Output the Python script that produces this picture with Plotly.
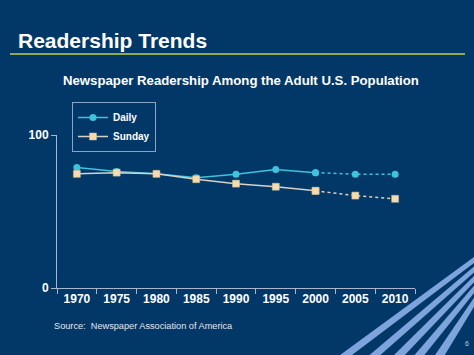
import plotly.graph_objects as go

years = [1970, 1975, 1980, 1985, 1990, 1995, 2000, 2005, 2010]
daily = [78.7, 76.1, 74.6, 72.0, 74.4, 77.4, 75.4, 74.4, 74.4]
sunday = [74.6, 75.4, 74.6, 71.1, 68.2, 66.2, 63.5, 60.4, 58.3]
split = 6  # index of 2000: solid up to here, dotted after

W, H = 474, 355
ML, MR, MT, MB = 57, 59, 135, 67
PW, PH = W - ML - MR, H - MT - MB

BG = "#023868"
DAILY_C = "#3fc3dc"
SUN_LINE = "#d6d2c8"
SUN_MK = "#f6dbac"


def px(x):
    return (x - ML) / PW


def py(y):
    return (H - MB - y) / PH


fig = go.Figure()
fig.add_trace(go.Scatter(
    x=years[:split + 1], y=daily[:split + 1], name="<b>Daily</b>", mode="lines+markers",
    line=dict(color=DAILY_C, width=1.5),
    marker=dict(symbol="circle", size=7, color=DAILY_C)))
fig.add_trace(go.Scatter(
    x=years[:split + 1], y=sunday[:split + 1], name="<b>Sunday</b>", mode="lines+markers",
    line=dict(color=SUN_LINE, width=1.5),
    marker=dict(symbol="square", size=7, color=SUN_MK,
                line=dict(color="#c8b894", width=0.5))))
fig.add_trace(go.Scatter(
    x=years[split:], y=daily[split:], showlegend=False, mode="lines+markers",
    line=dict(color=DAILY_C, width=1.5, dash="dot"),
    marker=dict(symbol="circle", size=7, color=DAILY_C)))
fig.add_trace(go.Scatter(
    x=years[split:], y=sunday[split:], showlegend=False, mode="lines+markers",
    line=dict(color=SUN_LINE, width=1.5, dash="dot"),
    marker=dict(symbol="square", size=7, color=SUN_MK,
                line=dict(color="#c8b894", width=0.5))))

# decorative stripes (bottom x-range at y=355, right-edge y-range at x=474)
stripes = [((340, 352), (257, 263)), ((370, 381), (266, 272)),
           ((395, 406), (275, 281)), ((416, 426), (284, 291)),
           ((437, 447), (295, 303))]
shapes = []
for (bx1, bx2), (ry1, ry2) in stripes:
    path = (f"M {px(bx1 - 4)},{py(H + 3)} L {px(W + 4)},{py(ry1 - 3)} "
            f"L {px(W + 4)},{py(ry2 - 3)} L {px(bx2 - 4)},{py(H + 3)} Z")
    shapes.append(dict(type="path", xref="paper", yref="paper", path=path,
                       fillcolor="#7ea4de", line=dict(width=0), layer="above"))
# title underline
shapes.append(dict(type="line", xref="paper", yref="paper",
                   x0=px(10), x1=px(465), y0=py(54), y1=py(54),
                   line=dict(color="#c3cf48", width=1.5)))

font = "Liberation Sans, Arial, sans-serif"
annotations = [
    dict(text="<b>Readership Trends</b>", x=px(16), y=py(40), xref="paper", yref="paper",
         xanchor="left", yanchor="middle", showarrow=False,
         font=dict(family=font, size=21, color="white")),
    dict(text="<b>Newspaper Readership Among the Adult U.S. Population</b>",
         x=px(241), y=py(81), xref="paper", yref="paper",
         xanchor="center", yanchor="middle", showarrow=False,
         font=dict(family=font, size=13.2, color="white")),
    dict(text="Source:  Newspaper Association of America", x=px(52), y=py(326),
         xref="paper", yref="paper", xanchor="left", yanchor="middle", showarrow=False,
         font=dict(family=font, size=9.2, color="#e0e6f0")),
    dict(text="6", x=px(467), y=py(343), xref="paper", yref="paper",
         xanchor="center", yanchor="middle", showarrow=False,
         font=dict(family=font, size=7, color="#c0cce0")),
]

fig.update_layout(
    width=W, height=H, margin=dict(l=ML, r=MR, t=MT, b=MB),
    paper_bgcolor=BG, plot_bgcolor=BG,
    font=dict(family=font, color="white"),
    shapes=shapes, annotations=annotations,
    legend=dict(x=px(72), y=py(102), xanchor="left", yanchor="top",
                bgcolor="rgba(0,0,0,0)", bordercolor="#8aa4c8", borderwidth=1,
                font=dict(family=font, size=10, color="white"),
                tracegroupgap=0, itemwidth=30),
    xaxis=dict(range=[1967.5, 2012.5], tickvals=years,
               ticktext=[f"<b>{y}</b>" for y in years], ticks="",
               showgrid=False, zeroline=False, showline=True, linecolor="#a8b8d0",
               linewidth=1, tickfont=dict(family=font, size=12, color="white"),
               minor=dict(tick0=1967.5, dtick=5, ticks="outside", ticklen=5,
                          tickcolor="#a8b8d0", showgrid=False)),
    yaxis=dict(range=[0, 100], tickvals=[0, 100], ticktext=["<b>0</b>", "<b>100</b>"],
               ticks="outside", ticklen=5, tickcolor="#a8b8d0",
               showgrid=False, zeroline=False, showline=True, linecolor="#a8b8d0",
               linewidth=1, tickfont=dict(family=font, size=12, color="white")),
    showlegend=True,
)

fig.write_html("out.html", config={"displayModeBar": False},
               post_script="document.body.style.margin='0';"
                           "document.body.style.background='" + BG + "';"
                           "document.body.style.overflow='hidden';")
